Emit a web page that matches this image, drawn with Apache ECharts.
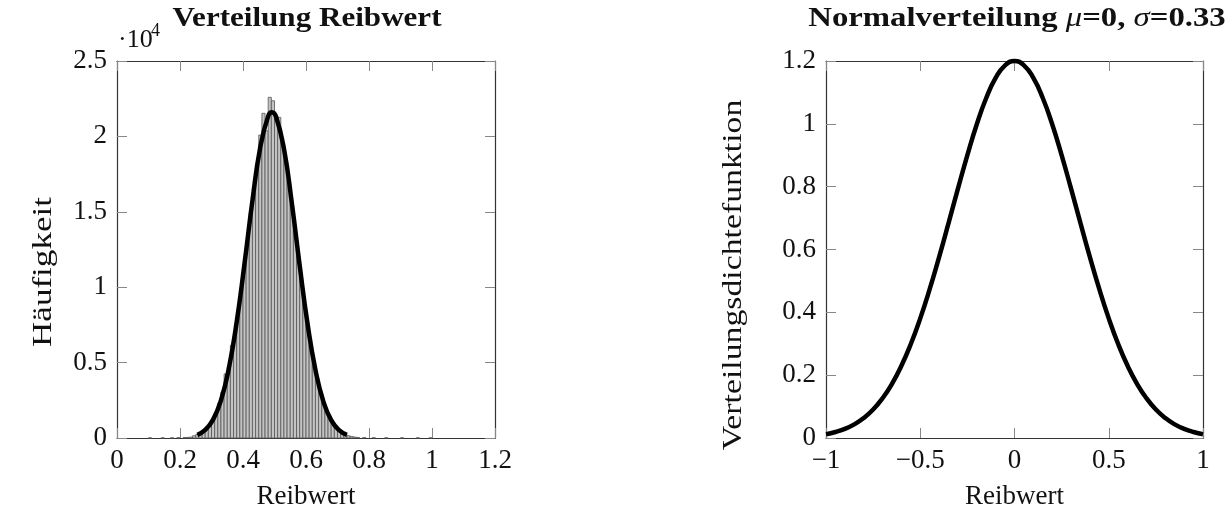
<!DOCTYPE html>
<html>
<head>
<meta charset="utf-8">
<script src="https://cdn.jsdelivr.net/npm/echarts@6/dist/echarts.min.js"></script>
<style>
  html, body { margin: 0; padding: 0; background: #fff; }
  #chart { width: 1231px; height: 511px; }
</style>
</head>
<body>
<div id="chart"></div>
<script>
// Histogram of the friction coefficient: lower bin edges and counts
const binWidth = 0.01;
const binStart = [
  0.10, 0.14, 0.17, 0.19, 0.21, 0.22,
  0.23, 0.24, 0.25, 0.26, 0.27, 0.28, 0.29, 0.30, 0.31, 0.32,
  0.33, 0.34, 0.35, 0.36, 0.37, 0.38, 0.39, 0.40, 0.41, 0.42,
  0.43, 0.44, 0.45, 0.46, 0.47, 0.48, 0.49, 0.50, 0.51, 0.52,
  0.53, 0.54, 0.55, 0.56, 0.57, 0.58, 0.59, 0.60, 0.61, 0.62,
  0.63, 0.64, 0.65, 0.66, 0.67, 0.68, 0.69, 0.70, 0.71, 0.72,
  0.73, 0.74, 0.75, 0.76,
  0.78, 0.81, 0.85, 0.90, 0.95, 0.99
];
const binCount = [
  8, 10, 14, 20, 30, 40,
  60, 150, 230, 330, 480, 690, 950, 1290, 1720, 2300,
  3050, 4250, 4700, 6150, 7050, 8300, 9900, 11500, 12900, 15000,
  16650, 18000, 20090, 21530, 20370, 22590, 22360, 21400, 21260, 19600,
  18400, 17000, 15500, 13800, 12100, 10500, 8900, 7500, 6150, 4950,
  3950, 3100, 2380, 1800, 1340, 980, 700, 490, 340, 230,
  150, 95, 60, 35,
  25, 18, 12, 10, 8, 6
];

// Fitted normal curve over the histogram
const fitX = [0.255, 0.28, 0.305, 0.33, 0.355, 0.38, 0.405, 0.43, 0.455, 0.48, 0.492,
              0.505, 0.53, 0.555, 0.58, 0.605, 0.63, 0.655, 0.68, 0.705, 0.73];
const fitY = [214, 537, 1220, 2499, 4619, 7704, 11596, 15749, 19301, 21346, 21600,
              21302, 19183, 15588, 11430, 7563, 4516, 2433, 1183, 519, 206];

// Normal density, mu = 0, sigma = 0.33
const normX = [-1, -0.95, -0.9, -0.85, -0.8, -0.75, -0.7, -0.65, -0.6, -0.55, -0.5,
               -0.45, -0.4, -0.35, -0.3, -0.25, -0.2, -0.15, -0.1, -0.05, 0,
               0.05, 0.1, 0.15, 0.2, 0.25, 0.3, 0.35, 0.4, 0.45, 0.5,
               0.55, 0.6, 0.65, 0.7, 0.75, 0.8, 0.85, 0.9, 0.95, 1];
const normY = [0.0122, 0.0190, 0.0291, 0.0435, 0.0635, 0.0906, 0.1265, 0.1724, 0.2298, 0.2992, 0.3808,
               0.4736, 0.5756, 0.6838, 0.7938, 0.9006, 0.9987, 1.0822, 1.1462, 1.1863, 1.2,
               1.1863, 1.1462, 1.0822, 0.9987, 0.9006, 0.7938, 0.6838, 0.5756, 0.4736, 0.3808,
               0.2992, 0.2298, 0.1724, 0.1265, 0.0906, 0.0635, 0.0435, 0.0291, 0.0190, 0.0122];

const FONT = '"Liberation Serif", "DejaVu Serif", serif';
const frameLine = { show: true, onZero: false, lineStyle: { color: '#333', width: 1.2 } };
const innerTick = { show: true, inside: true, length: 10, lineStyle: { color: '#888', width: 1 } };
const tickLabel = { fontFamily: FONT, fontSize: 27, color: '#111' };
const axisName = { fontFamily: FONT, fontSize: 27, color: '#111' };

function fmt(v) {
  const s = String(+v.toFixed(2));
  return s.replace('-', '\u2212');
}

function boxAxis(gridIndex, min, max, interval, position, labelled, extra) {
  return Object.assign({
    gridIndex: gridIndex, type: 'value', min: min, max: max, interval: interval, position: position,
    axisLine: frameLine, axisTick: innerTick, splitLine: { show: false },
    axisLabel: labelled ? Object.assign({ margin: 10 }, tickLabel, labelled) : { show: false }
  }, extra || {});
}

const chart = echarts.init(document.getElementById('chart'), null, { renderer: 'canvas' });

chart.setOption({
  animation: false,
  backgroundColor: '#fff',
  grid: [
    { left: 117, right: 736, top: 61, height: 377, containLabel: false, outerBoundsMode: 'none' },
    { left: 826, right: 28, top: 61, height: 377, containLabel: false, outerBoundsMode: 'none' }
  ],
  xAxis: [
    boxAxis(0, 0, 1.2, 0.2, 'bottom', { formatter: fmt, margin: 9 },
      { name: 'Reibwert', nameLocation: 'middle', nameGap: 45, nameTextStyle: axisName }),
    boxAxis(0, 0, 1.2, 0.2, 'top', null),
    boxAxis(1, -1, 1, 0.5, 'bottom', { formatter: fmt, margin: 9 },
      { name: 'Reibwert', nameLocation: 'middle', nameGap: 45, nameTextStyle: axisName }),
    boxAxis(1, -1, 1, 0.5, 'top', null)
  ],
  yAxis: [
    boxAxis(0, 0, 25000, 5000, 'left', { formatter: v => fmt(v / 10000) }),
    boxAxis(0, 0, 25000, 5000, 'right', null),
    boxAxis(1, 0, 1.2, 0.2, 'left', { formatter: fmt }),
    boxAxis(1, 0, 1.2, 0.2, 'right', null)
  ],
  series: [
    {
      type: 'custom',
      xAxisIndex: 0, yAxisIndex: 0,
      encode: { x: [0, 1], y: 2 },
      data: binStart.map((s, i) => [s, s + binWidth, binCount[i]]),
      renderItem: function (params, api) {
        const p0 = api.coord([api.value(0), 0]);
        const p1 = api.coord([api.value(1), api.value(2)]);
        return {
          type: 'rect',
          shape: { x: p0[0], y: p1[1], width: p1[0] - p0[0], height: p0[1] - p1[1] },
          style: { fill: '#c4c4c4', stroke: '#555', lineWidth: 0.8 }
        };
      },
      z: 2
    },
    {
      type: 'line',
      xAxisIndex: 0, yAxisIndex: 0,
      data: fitX.map((x, i) => [x, fitY[i]]),
      smooth: true, showSymbol: false, clip: false,
      lineStyle: { color: '#000', width: 4.5 },
      z: 5
    },
    {
      type: 'line',
      xAxisIndex: 2, yAxisIndex: 2,
      data: normX.map((x, i) => [x, normY[i]]),
      smooth: true, showSymbol: false, clip: false,
      lineStyle: { color: '#000', width: 4.5 },
      z: 5
    }
  ],
  graphic: [
    {
      type: 'text', x: 307, y: 19, scaleX: 1.11,
      style: { text: 'Verteilung Reibwert', font: 'bold 28px ' + FONT, fill: '#111',
               textAlign: 'center', textVerticalAlign: 'middle' }
    },
    {
      type: 'text', x: 1017, y: 19, scaleX: 1.17,
      style: {
        text: '{b|Normalverteilung }{i|\u03bc}{b|=0, }{i|\u03c3}{b|=0.33}',
        textAlign: 'center', textVerticalAlign: 'middle', fill: '#111',
        rich: {
          b: { fontFamily: FONT, fontWeight: 'bold', fontSize: 28, fill: '#111' },
          i: { fontFamily: FONT, fontStyle: 'italic', fontSize: 28, fill: '#111' }
        }
      }
    },
    {
      type: 'text', x: 118, y: 40,
      style: { text: '\u00b710', font: '26px ' + FONT, fill: '#111', textAlign: 'left', textVerticalAlign: 'middle' }
    },
    {
      type: 'text', x: 151, y: 31,
      style: { text: '4', font: '18px ' + FONT, fill: '#111', textAlign: 'left', textVerticalAlign: 'middle' }
    },
    {
      type: 'text', x: 44, y: 272, rotation: Math.PI / 2, scaleX: 1.3,
      style: { text: 'H\u00e4ufigkeit', font: '27px ' + FONT, fill: '#111', textAlign: 'center', textVerticalAlign: 'middle' }
    },
    {
      type: 'text', x: 734, y: 275, rotation: Math.PI / 2, scaleX: 1.25,
      style: { text: 'Verteilungsdichtefunktion', font: '27px ' + FONT, fill: '#111', textAlign: 'center', textVerticalAlign: 'middle' }
    }
  ]
});
</script>
</body>
</html>
